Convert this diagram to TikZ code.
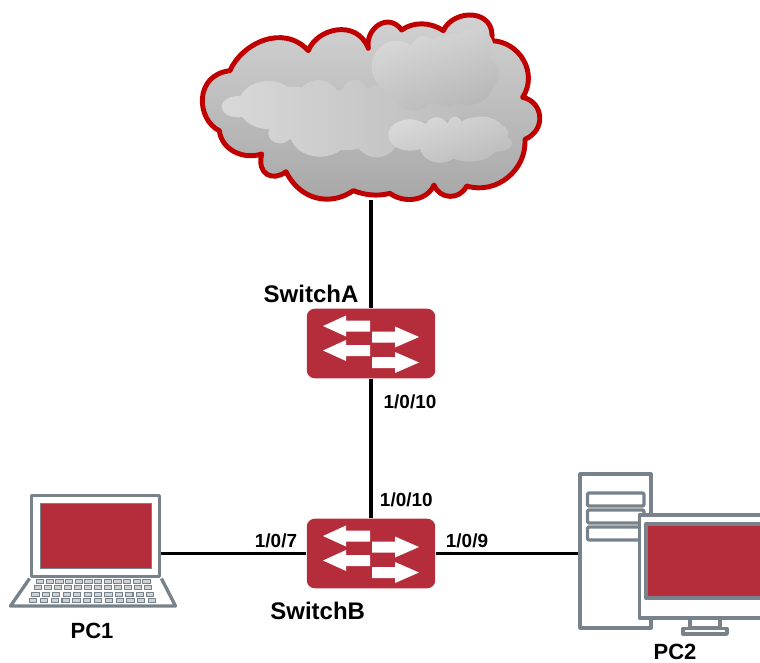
\documentclass[tikz,border=0pt]{standalone}
\usepackage{fontspec}
\setmainfont{Liberation Sans}
\begin{document}
\begin{tikzpicture}[x=0.75pt,y=-0.75pt,line cap=butt]
  \definecolor{swred}{HTML}{B52D3A}
  \definecolor{devgray}{HTML}{78828A}
  \definecolor{cloudred}{HTML}{C00000}
  \tikzstyle{switchbox}=[fill=swred,rounded corners=6pt,inner sep=0,minimum width=96bp,minimum height=52bp]
  \tikzstyle{link}=[draw=black,line width=2.4pt]
  \tikzstyle{devline}=[draw=devgray,line width=2.5pt,line join=round]
  \tikzstyle{lbl}=[font=\fontsize{18}{20}\selectfont\bfseries,inner sep=0]
  \tikzstyle{pclbl}=[font=\fontsize{16.5}{20}\selectfont\bfseries,inner sep=0]
  \tikzstyle{port}=[font=\fontsize{14.2}{16}\selectfont\bfseries,inner sep=0]
  \useasboundingbox (0,0) rectangle (760,663);

  % cloud outline and its inner clouds, in units of a third of a pixel
  \node[inner sep=0,minimum width=255bp,minimum height=139bp] (cloud) at (371,107) {};
  \begin{scope}[shift={(180,0)},scale=1/3]
    \draw[draw=cloudred,line width=3.7pt,top color=black!17,bottom color=black!35,line join=round]
      (150,212) .. controls (185,130) and (310,70) .. (385,152)
      .. controls (410,85) and (530,55) .. (565,145)
      .. controls (555,85) and (625,35) .. (665,90)
      .. controls (700,65) and (750,65) .. (790,92)
      .. controls (820,25) and (950,25) .. (935,122)
      .. controls (1020,125) and (1075,220) .. (1028,292)
      .. controls (1090,305) and (1100,390) .. (1035,418)
      .. controls (1040,510) and (950,585) .. (860,558)
      .. controls (840,600) and (780,600) .. (762,555)
      .. controls (740,605) and (670,610) .. (630,580)
      .. controls (590,590) and (555,585) .. (520,572)
      .. controls (450,620) and (360,600) .. (318,515)
      .. controls (280,545) and (230,525) .. (245,462)
      .. controls (190,480) and (125,450) .. (118,392)
      .. controls (50,360) and (40,225) .. (150,212) -- cycle;
    \path[left color=black!15,right color=black!26]
      (175,320) ellipse (50 and 32) (265,315) ellipse (90 and 72) (345,340) ellipse (80 and 80)
      (415,330) ellipse (75 and 90) (420,400) ellipse (90 and 70) (300,400) ellipse (35 and 30)
      (525,290) ellipse (42 and 50) (590,400) ellipse (70 and 72) (620,330) ellipse (90 and 80)
      (500,360) ellipse (120 and 90) (750,335) ellipse (100 and 28);
    \path[top color=black!15,bottom color=black!28,shading angle=20]
      (650,200) ellipse (75 and 78) (730,165) ellipse (40 and 57) (700,270) ellipse (60 and 62)
      (795,270) ellipse (40 and 50) (860,250) ellipse (80 and 66) (830,170) ellipse (70 and 70)
      (880,140) ellipse (60 and 55) (905,220) ellipse (52 and 50) (780,200) ellipse (60 and 90);
    \path[top color=black!15,bottom color=black!26,shading angle=20]
      (690,405) ellipse (65 and 47) (770,400) ellipse (40 and 48) (825,385) ellipse (25 and 35)
      (900,390) ellipse (70 and 40) (780,440) ellipse (60 and 48) (870,440) ellipse (80 and 45)
      (945,430) ellipse (52 and 25) (950,400) ellipse (35 and 27) (910,370) ellipse (35 and 20)
      (800,420) ellipse (100 and 40);
  \end{scope}

  \node[switchbox] (swa) at (371,343.5) {};
  \node[switchbox] (swb) at (371,553.5) {};
  \foreach \sw in {swa,swb} {
    \begin{scope}[shift={(\sw.center)}]
      \foreach \ya in {-17.5,7} % left-hand arrows
        \fill[white] (-48,\ya) -- (-25,\ya-10.5) -- (-25,\ya-5.5) -- (-1,\ya-5.5) -- (-1,\ya+5.5) -- (-25,\ya+5.5) -- (-25,\ya+10.5) -- cycle;
      \foreach \ya in {-6.5,19} % right-hand arrows
        \fill[white] (48,\ya) -- (24,\ya-10.5) -- (24,\ya-5.5) -- (1,\ya-5.5) -- (1,\ya+5.5) -- (24,\ya+5.5) -- (24,\ya+10.5) -- cycle;
    \end{scope}
  }

  % PC1
  \node[devline,draw,inner sep=0,minimum width=96bp,minimum height=61bp] (pc1) at (95.5,536) {};
  \node[draw=devgray,fill=swred,line width=.8pt,inner sep=0,minimum width=83bp,minimum height=48bp] (pc1s) at (95.8,536) {};
  \draw[devline] (pc1.south west) -- (10.5,606) -- (175.5,606) -- (pc1.south east);
  \foreach \r in {0,1,2,3}
    \foreach \c in {0,...,11}
      \draw[draw=devgray,line width=.8pt,fill=devgray!35] (36.5-\r*2.3+\c*9.67+\c*\r*.38,579.5+\r*6.4) rectangle +(7.2,3.8);

  % PC2
  \node[devline,draw,inner sep=0,minimum width=53bp,minimum height=115bp] (pc2) at (615.5,551) {};
  \foreach \ya in {493,510,527}
    \draw[devline,fill=white,rounded corners=1pt] (587.5,\ya) rectangle (644,\ya+13);
  \draw[devline,fill=white] (690,618) rectangle (720,628);
  \draw[devline,fill=white] (683,628.5) rectangle (727,634);
  \draw[devline,fill=white] (775,515) -- (639.5,515) -- (639.5,618) -- (775,618);
  \fill[swred] (646,524) rectangle (775,598);
  \draw[devline] (775,524) -- (646,524) -- (646,598) -- (775,598);

  \node[lbl] (swal) at (311,294) {SwitchA};
  \node[lbl] (swbl) at (317.7,611) {SwitchB};
  \node[pclbl] (pc1l) at (92,631) {PC1};
  \node[pclbl] (pc2l) at (675,652) {PC2};
  \node[port] (p1) at (410,402) {1/0/10};
  \node[port] (p2) at (406.3,500) {1/0/10};
  \node[port] (p3) at (276,541) {1/0/7};
  \node[port] (p4) at (467,541) {1/0/9};

  \draw[link] (cloud.south) -- (swa.north);
  \draw[link] (swa.south) -- (swb.north);
  \draw[link] (pc1.east |- swb.west) -- (swb.west);
  \draw[link] (swb.east) -- (pc2.west |- swb.east);
\end{tikzpicture}
\end{document}
